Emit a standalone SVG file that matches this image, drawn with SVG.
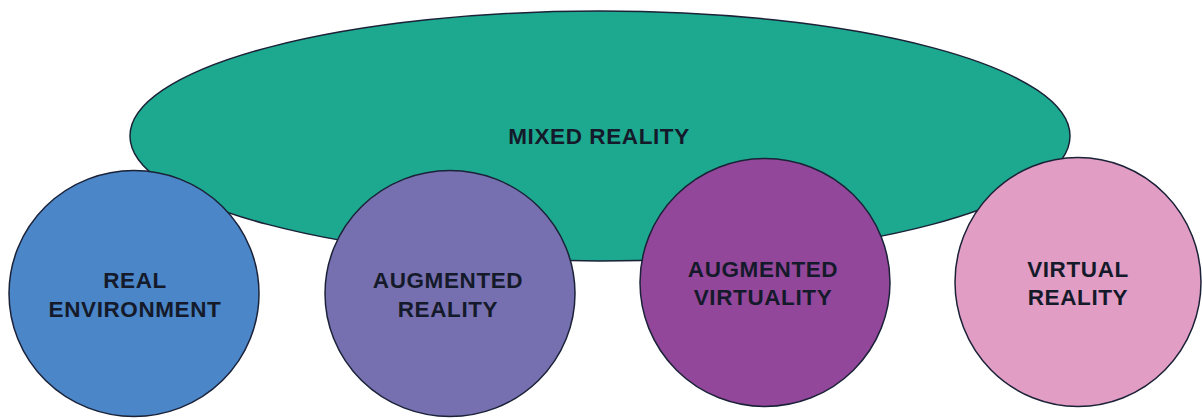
<svg xmlns="http://www.w3.org/2000/svg" width="1202" height="419" viewBox="0 0 1202 419">
  <style>
    .shape { stroke: #1b2238; stroke-width: 1.5; }
    .lbl { font-family: "Liberation Sans", Arial, sans-serif; font-weight: bold; font-size: 22.5px; letter-spacing: 0.6px; fill: #151a2b; text-anchor: middle; }
  </style>
  <rect width="1202" height="419" fill="#ffffff"/>
  <g id="connectors"></g>
  <g id="mixed-reality">
    <ellipse class="shape" cx="600" cy="136" rx="470" ry="125" fill="#1ca98f"/>
    <text class="lbl" x="599" y="144">MIXED REALITY</text>
  </g>
  <g id="real-environment">
    <ellipse class="shape" cx="134" cy="293.5" rx="125" ry="123" fill="#4a86c8"/>
    <text class="lbl" x="135" y="288">REAL</text>
    <text class="lbl" x="135" y="317">ENVIRONMENT</text>
  </g>
  <g id="augmented-reality">
    <ellipse class="shape" cx="450" cy="293.5" rx="125" ry="123" fill="#7670b0"/>
    <text class="lbl" x="448" y="288">AUGMENTED</text>
    <text class="lbl" x="448" y="317">REALITY</text>
  </g>
  <g id="augmented-virtuality">
    <ellipse class="shape" cx="765" cy="282.5" rx="125" ry="124" fill="#93479b"/>
    <text class="lbl" x="763" y="277">AUGMENTED</text>
    <text class="lbl" x="763" y="305">VIRTUALITY</text>
  </g>
  <g id="virtual-reality">
    <ellipse class="shape" cx="1078" cy="282" rx="123" ry="124.5" fill="#e29dc4"/>
    <text class="lbl" x="1078" y="277">VIRTUAL</text>
    <text class="lbl" x="1078" y="305">REALITY</text>
  </g>
</svg>
